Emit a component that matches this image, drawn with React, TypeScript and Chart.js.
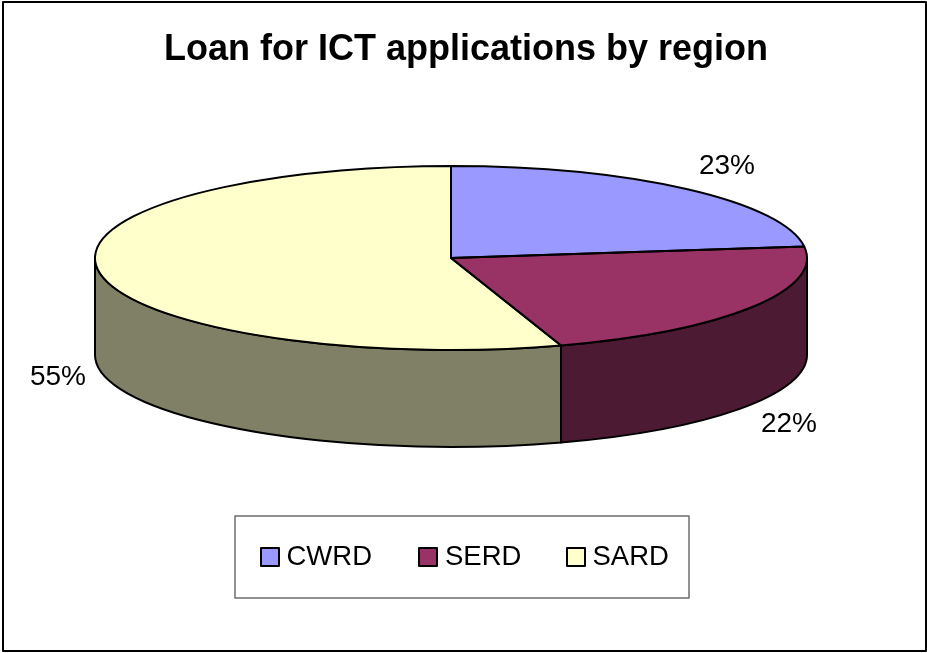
import React, { useEffect, useRef } from "react";
import { Chart, registerables } from "chart.js";

Chart.register(...registerables);

const titleText = "Loan for ICT applications by region";
const categories = ["CWRD", "SERD", "SARD"];
const shares = [23, 22, 55];
const topColors = ["#9999FF", "#993366", "#FFFFCC"];
const sideColors = ["#4D1A33", "#4D1A33", "#808066"];
const FONT = "'Liberation Sans', Arial, sans-serif";

const PIE = { cx: 451, cy: 258, rx: 356, ry: 92, depth: 97 };
const labelAnchors = [
  { x: 727, y: 166 },
  { x: 789, y: 424 },
  { x: 58, y: 377 },
];
const LEGEND = {
  frame: { x: 235, y: 516, w: 454, h: 82 },
  swatchX: [261, 419, 567],
  textX: [286.5, 445, 592.5],
  swatchY: 548,
  swatch: 18,
  textY: 557.5,
};

const pie3d = {
  id: "pie3d",
  beforeDraw(chart: any) {
    const { ctx, width, height } = chart;
    ctx.save();
    ctx.fillStyle = "#fff";
    ctx.fillRect(0, 0, width, height);
    ctx.restore();
  },
  beforeDatasetsDraw(chart: any) {
    const { ctx } = chart;
    const arcs = chart.getDatasetMeta(0).data;
    const k = PIE.ry / PIE.rx;
    // walls of the cylinder, from the library's arc angles
    arcs.forEach((arc: any, i: number) => {
      const a0 = Math.max(arc.startAngle, 0);
      const a1 = Math.min(arc.endAngle, Math.PI);
      if (a1 <= a0) return;
      ctx.save();
      ctx.beginPath();
      ctx.ellipse(PIE.cx, PIE.cy, PIE.rx, PIE.ry, 0, a0, a1, false);
      ctx.ellipse(PIE.cx, PIE.cy + PIE.depth, PIE.rx, PIE.ry, 0, a1, a0, true);
      ctx.closePath();
      ctx.fillStyle = sideColors[i];
      ctx.fill();
      ctx.lineWidth = 2;
      ctx.strokeStyle = "#000";
      ctx.lineJoin = "round";
      ctx.stroke();
      ctx.restore();
    });
    // squash the library's circular pie into the tilted top face
    const ax = arcs[0].x;
    const ay = arcs[0].y;
    ctx.save();
    ctx.translate(PIE.cx, PIE.cy);
    ctx.scale(1, k);
    ctx.translate(-ax, -ay);
  },
  afterDatasetsDraw(chart: any) {
    const { ctx } = chart;
    ctx.restore();
    const arcs = chart.getDatasetMeta(0).data;
    ctx.save();
    ctx.strokeStyle = "#000";
    ctx.lineWidth = 2;
    ctx.lineJoin = "round";
    arcs.forEach((arc: any) => {
      ctx.beginPath();
      ctx.moveTo(PIE.cx, PIE.cy);
      ctx.ellipse(PIE.cx, PIE.cy, PIE.rx, PIE.ry, 0, arc.startAngle, arc.endAngle, false);
      ctx.closePath();
      ctx.stroke();
    });

    // percentage labels
    ctx.fillStyle = "#000";
    ctx.font = `28px ${FONT}`;
    ctx.textAlign = "center";
    ctx.textBaseline = "middle";
    shares.forEach((v, i) => {
      ctx.fillText(`${v}%`, labelAnchors[i].x, labelAnchors[i].y);
    });

    // legend
    const f = LEGEND.frame;
    ctx.strokeStyle = "#6E6E6E";
    ctx.lineWidth = 1.5;
    ctx.strokeRect(f.x, f.y, f.w, f.h);
    ctx.font = `27.5px ${FONT}`;
    ctx.textAlign = "left";
    categories.forEach((name, i) => {
      ctx.fillStyle = topColors[i];
      ctx.fillRect(LEGEND.swatchX[i], LEGEND.swatchY, LEGEND.swatch, LEGEND.swatch);
      ctx.strokeStyle = "#000";
      ctx.lineWidth = 2;
      ctx.strokeRect(LEGEND.swatchX[i], LEGEND.swatchY, LEGEND.swatch, LEGEND.swatch);
      ctx.fillStyle = "#000";
      ctx.fillText(name, LEGEND.textX[i], LEGEND.textY);
    });

    // outer frame
    ctx.strokeStyle = "#000";
    ctx.lineWidth = 2;
    ctx.strokeRect(3, 2, 923, 649);
    ctx.restore();
  },
};

export default function App() {
  const ref = useRef<HTMLCanvasElement>(null);
  useEffect(() => {
    const chart = new Chart(ref.current!, {
      type: "pie",
      data: {
        labels: categories,
        datasets: [
          {
            data: shares,
            backgroundColor: topColors,
            borderWidth: 0,
            radius: PIE.rx,
            clip: false,
          } as any,
        ],
      },
      options: {
        responsive: false,
        animation: false,
        layout: { padding: { left: 5, right: 0, top: 0, bottom: 0 } },
        events: [],
        plugins: {
          legend: { display: false },
          tooltip: { enabled: false },
          title: {
            display: true,
            text: titleText,
            color: "#000",
            font: { family: FONT, size: 36, weight: "bold" },
            padding: { top: 28, bottom: 10 },
          },
        },
      },
      plugins: [pie3d],
    });
    return () => chart.destroy();
  }, []);
  return (
    <canvas
      ref={ref}
      width={927}
      height={653}
      style={{ position: "fixed", left: 0, top: 0, display: "block", width: 927, height: 653 }}
    />
  );
}
